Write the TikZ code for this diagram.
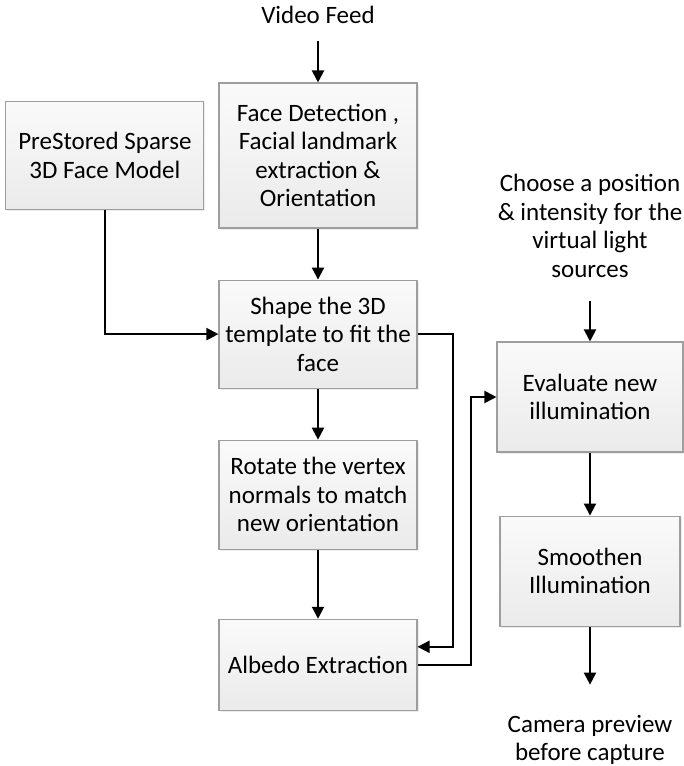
\documentclass[tikz,border=0pt]{standalone}
\usepackage{fontspec}
\setmainfont{Carlito}
\usetikzlibrary{arrows.meta,positioning,shadows}

\begin{document}
\begin{tikzpicture}[
    x=1pt, y=-1pt,
    node distance=51pt,
    every node/.style={font=\fontsize{25}{28.5}\selectfont},
    process/.style={
        rectangle,
        draw=black!38,
        line width=1.1pt,
        top color=black!2,
        bottom color=black!8,
        drop shadow={shadow xshift=1.5pt, shadow yshift=-1.5pt, opacity=0.15},
        align=center,
        minimum width=198pt,
        inner sep=3pt
    },
    plain/.style={align=center, inner sep=0pt},
    arrow/.style={-{Triangle[length=12pt,width=12pt]}, line width=2pt}
]
\useasboundingbox (0,0) rectangle (684,766);

\node[process, minimum height=145pt] (detect) at (318,155.5)
{Face Detection ,\\Facial landmark\\extraction \&\\Orientation};

\node[process, minimum height=108pt, left=14pt of detect] (model)
{PreStored Sparse\\3D Face Model};

\node[process, minimum height=108pt, below=of detect] (shape)
{Shape the 3D\\template to fit the\\face};

\node[process, minimum height=109pt, below=of shape] (rotate)
{Rotate the vertex\\normals to match\\new orientation};

\node[process, minimum height=91pt, below=69pt of rotate] (albedo)
{Albedo Extraction};

\node[process, minimum width=186pt, minimum height=110pt] (eval) at (590,397)
{Evaluate new\\illumination};

\node[process, minimum width=180pt, minimum height=110pt, below=63pt of eval] (smooth)
{Smoothen\\Illumination};

\node[plain, above=59pt of detect] (feed) {Video Feed};

\node[plain, above=64pt of eval] (light)
{Choose a position\\\& intensity for the\\virtual light\\sources};

\node[plain, below=88pt of smooth] (preview)
{Camera preview\\before capture};

\draw[arrow, shorten <=18pt] (feed) -- (detect);
\draw[arrow] (detect) -- (shape);
\draw[arrow] (model) |- (shape);
\draw[arrow] (shape) -- (rotate);
\draw[arrow] (rotate) -- (albedo);

\draw[arrow] (shape.east) -- ++(35pt,0) |- ([yshift=18pt]albedo.east);
\draw[arrow] (albedo.east) -- ++(53pt,0) |- (eval.west);

\draw[arrow, shorten <=24pt] (light) -- (eval);
\draw[arrow] (eval) -- (smooth);
\draw[arrow, shorten >=30pt] (smooth) -- (preview);

\end{tikzpicture}
\end{document}
